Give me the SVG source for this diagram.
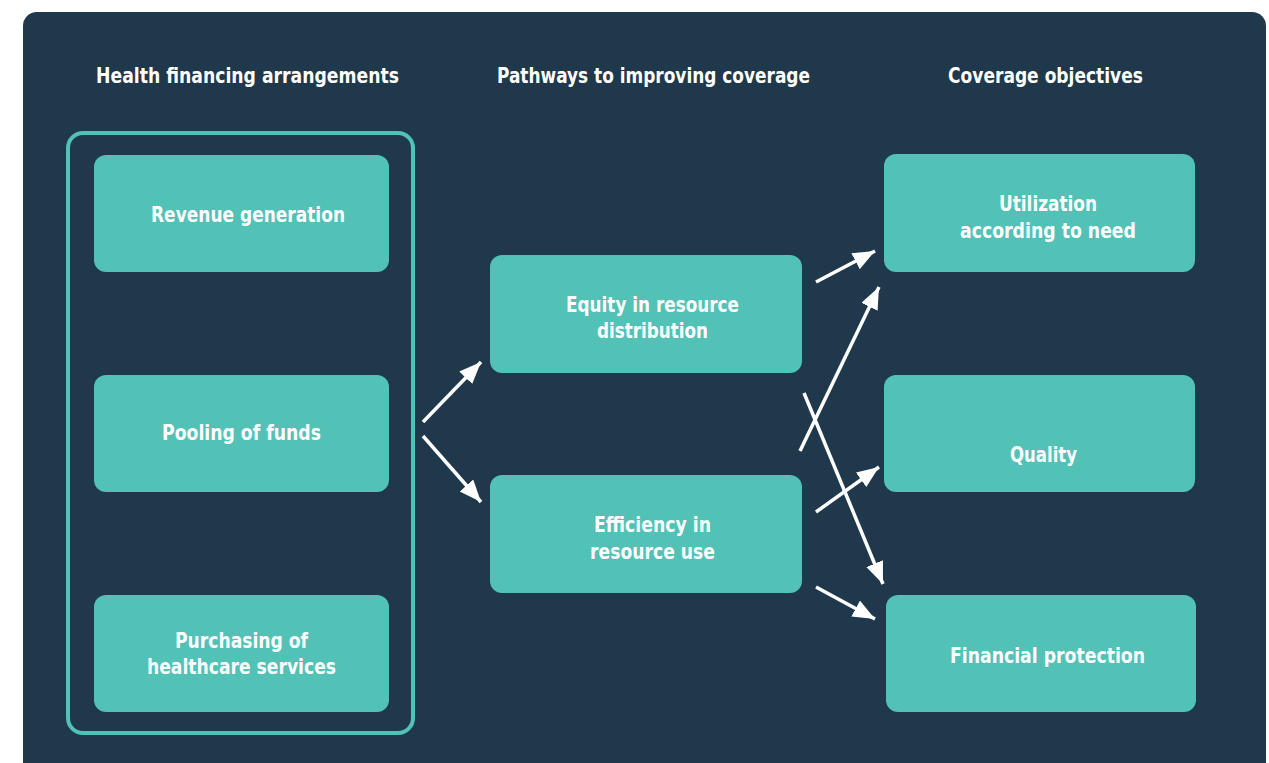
<svg xmlns="http://www.w3.org/2000/svg" width="1269" height="763" viewBox="0 0 1269 763">
<style>
.bg{fill:#1f384b}
.node{fill:#52c1b6}
.frame{fill:none;stroke:#52c1b6;stroke-width:4}
text{font-family:"DejaVu Sans Condensed","Liberation Sans Narrow","Liberation Sans",sans-serif;font-size:22px;font-weight:bold;fill:#ffffff;text-anchor:middle}
.conn line{stroke:#ffffff;stroke-width:3.5}
</style>
<defs>
<marker id="ah" markerUnits="userSpaceOnUse" markerWidth="24" markerHeight="20" refX="22" refY="9" orient="auto">
<path d="M0,0 L22,9 L0,18 Z" fill="#ffffff"/>
</marker>
</defs>
<rect width="1269" height="763" fill="#ffffff"/>
<rect class="bg" x="23" y="12" width="1243" height="780" rx="14"/>
<text x="247.5" y="83" textLength="303" lengthAdjust="spacingAndGlyphs">Health financing arrangements</text>
<text x="653.5" y="83" textLength="313" lengthAdjust="spacingAndGlyphs">Pathways to improving coverage</text>
<text x="1045.5" y="83" textLength="195" lengthAdjust="spacingAndGlyphs">Coverage objectives</text>
<rect class="frame" x="68" y="133" width="345" height="600" rx="15"/>
<g id="n-revenue"><rect class="node" x="94" y="155" width="295" height="117" rx="12"/><text x="248" y="222" textLength="194" lengthAdjust="spacingAndGlyphs">Revenue generation</text></g>
<g id="n-pooling"><rect class="node" x="94" y="375" width="295" height="117" rx="12"/><text x="241.5" y="440" textLength="159" lengthAdjust="spacingAndGlyphs">Pooling of funds</text></g>
<g id="n-purchasing"><rect class="node" x="94" y="595" width="295" height="117" rx="12"/><text x="241.5" y="648" textLength="133" lengthAdjust="spacingAndGlyphs">Purchasing of</text><text x="241.5" y="674" textLength="189" lengthAdjust="spacingAndGlyphs">healthcare services</text></g>
<g id="n-equity"><rect class="node" x="490" y="255" width="312" height="118" rx="12"/><text x="652.5" y="312" textLength="173" lengthAdjust="spacingAndGlyphs">Equity in resource</text><text x="652.5" y="338" textLength="111" lengthAdjust="spacingAndGlyphs">distribution</text></g>
<g id="n-efficiency"><rect class="node" x="490" y="475" width="312" height="118" rx="12"/><text x="652.5" y="532" textLength="117" lengthAdjust="spacingAndGlyphs">Efficiency in</text><text x="652.5" y="559" textLength="125" lengthAdjust="spacingAndGlyphs">resource use</text></g>
<g id="n-utilization"><rect class="node" x="884" y="154" width="311" height="118" rx="12"/><text x="1048" y="211" textLength="98" lengthAdjust="spacingAndGlyphs">Utilization</text><text x="1048" y="238" textLength="176" lengthAdjust="spacingAndGlyphs">according to need</text></g>
<g id="n-quality"><rect class="node" x="884" y="375" width="311" height="117" rx="12"/><text x="1043.5" y="462" textLength="67" lengthAdjust="spacingAndGlyphs">Quality</text></g>
<g id="n-financial"><rect class="node" x="886" y="595" width="310" height="117" rx="12"/><text x="1047.5" y="663" textLength="195" lengthAdjust="spacingAndGlyphs">Financial protection</text></g>
<g class="conn">
<line x1="423" y1="422" x2="481" y2="362" marker-end="url(#ah)"/>
<line x1="423" y1="436" x2="481" y2="502" marker-end="url(#ah)"/>
<line x1="816" y1="282" x2="875" y2="251" marker-end="url(#ah)"/>
<line x1="800" y1="451" x2="879" y2="287" marker-end="url(#ah)"/>
<line x1="804" y1="393" x2="883" y2="584" marker-end="url(#ah)"/>
<line x1="816" y1="512" x2="879" y2="467" marker-end="url(#ah)"/>
<line x1="816" y1="587" x2="875" y2="619" marker-end="url(#ah)"/>
</g>
</svg>
